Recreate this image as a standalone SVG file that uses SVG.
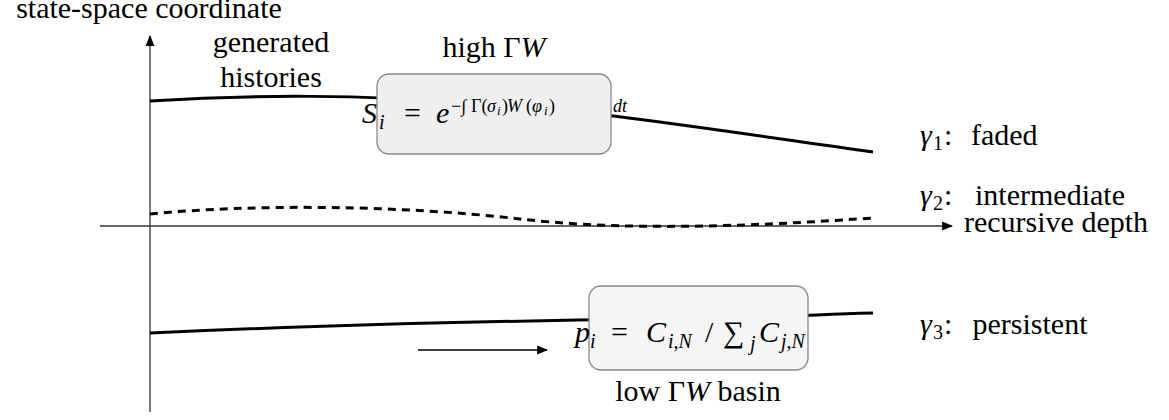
<svg xmlns="http://www.w3.org/2000/svg" width="1169" height="420" viewBox="0 0 1169 420">
<defs>
<marker id="ah" viewBox="0 0 10 10" refX="9" refY="5" markerWidth="11" markerHeight="11" markerUnits="userSpaceOnUse" orient="auto">
<path d="M0,1 L10,5 L0,9 Z" fill="#000"/>
</marker>
<style>
.axis{stroke:#333;stroke-width:1.3;fill:none}
.curve{stroke:#000;stroke-width:3;fill:none}
.box{stroke:#888;stroke-width:1.3}
</style>
</defs>
<g id="axes">
<line class="axis" x1="150" y1="412" x2="150" y2="36" marker-end="url(#ah)"/>
<line class="axis" x1="100" y1="226" x2="952" y2="226" marker-end="url(#ah)"/>
<text font-family="Liberation Serif" font-size="30" x="149" y="18" text-anchor="middle">state-space coordinate</text>
<text font-family="Liberation Serif" font-size="30" x="1056" y="232" text-anchor="middle">recursive depth</text>
</g>
<g id="connectors">
<path id="g1" class="curve" d="M150,101 C260,94 360,95 480,103 S750,135 873,152"/>
<path id="g2" class="curve" stroke-width="2" stroke-dasharray="8,6" d="M150,214 C250,204 400,205 520,219 C600,228 700,230 873,218"/>
<path id="g3" class="curve" d="M150,333 C300,326 500,321 650,319 S800,315 873,313"/>
<line x1="418" y1="350" x2="547" y2="350" stroke="#000" stroke-width="1.5" marker-end="url(#ah)"/>
</g>
<g id="label-generated">
<text font-family="Liberation Serif" font-size="30" x="271" y="52" text-anchor="middle">generated</text>
<text font-family="Liberation Serif" font-size="30" x="271" y="87" text-anchor="middle">histories</text>
</g>
<g id="label-high">
<text font-family="Liberation Serif" font-size="30" x="494" y="57" text-anchor="middle">high Γ<tspan font-style="italic">W</tspan></text>
</g>
<g id="node-survival">
<rect class="box" x="377" y="74" width="234" height="80" rx="12" fill="#efefef"/>
<text font-family="Liberation Serif" font-size="30" font-style="italic" x="362" y="123">S</text>
<text font-family="Liberation Serif" font-size="20" font-style="italic" x="379" y="129">i</text>
<text font-family="Liberation Serif" font-size="30" x="404" y="123">=</text>
<text font-family="Liberation Serif" font-size="30" font-style="italic" x="436" y="123">e</text>
<text font-family="Liberation Serif" font-size="18" x="451" y="112">−∫</text>
<text font-family="Liberation Serif" font-size="18" x="471" y="112">Γ(</text>
<text font-family="Liberation Serif" font-size="18" font-style="italic" x="487" y="112">σ</text>
<text font-family="Liberation Serif" font-size="13" font-style="italic" x="497" y="115">i</text>
<text font-family="Liberation Serif" font-size="18" x="502" y="112">)</text>
<text font-family="Liberation Serif" font-size="18" font-style="italic" x="507" y="112">W</text>
<text font-family="Liberation Serif" font-size="18" x="526" y="112">(</text>
<text font-family="Liberation Serif" font-size="18" font-style="italic" x="532" y="112">φ</text>
<text font-family="Liberation Serif" font-size="13" font-style="italic" x="544" y="115">i</text>
<text font-family="Liberation Serif" font-size="18" x="549" y="112">)</text>
<text font-family="Liberation Serif" font-size="18" font-style="italic" x="613" y="112">dt</text>
</g>
<g id="label-gamma1">
<text font-family="Liberation Serif" font-size="30" font-style="italic" x="920" y="145">γ</text>
<text font-family="Liberation Serif" font-size="20" x="933" y="150">1</text>
<text font-family="Liberation Serif" font-size="30" x="944" y="145">:</text>
<text font-family="Liberation Serif" font-size="30" x="971" y="145">faded</text>
</g>
<g id="label-gamma2">
<text font-family="Liberation Serif" font-size="30" font-style="italic" x="920" y="205">γ</text>
<text font-family="Liberation Serif" font-size="20" x="933" y="210">2</text>
<text font-family="Liberation Serif" font-size="30" x="944" y="205">:</text>
<text font-family="Liberation Serif" font-size="30" x="1050" y="205" text-anchor="middle">intermediate</text>
</g>
<g id="label-gamma3">
<text font-family="Liberation Serif" font-size="30" font-style="italic" x="920" y="334">γ</text>
<text font-family="Liberation Serif" font-size="20" x="933" y="339">3</text>
<text font-family="Liberation Serif" font-size="30" x="944" y="334">:</text>
<text font-family="Liberation Serif" font-size="30" x="1030" y="334" text-anchor="middle">persistent</text>
</g>
<g id="node-probability">
<rect class="box" x="589" y="286" width="219" height="84" rx="12" fill="#f5f5f5"/>
<text font-family="Liberation Serif" font-size="30" font-style="italic" x="575" y="342">p</text>
<text font-family="Liberation Serif" font-size="20" font-style="italic" x="590" y="348">i</text>
<text font-family="Liberation Serif" font-size="30" x="611" y="342">=</text>
<text font-family="Liberation Serif" font-size="30" font-style="italic" x="646" y="342">C</text>
<text font-family="Liberation Serif" font-size="20" font-style="italic" x="668" y="348">i,N</text>
<text font-family="Liberation Serif" font-size="30" x="705" y="342">/</text>
<text font-family="Liberation Serif" font-size="30" x="723" y="342">∑</text>
<text font-family="Liberation Serif" font-size="20" font-style="italic" x="750" y="350">j</text>
<text font-family="Liberation Serif" font-size="30" font-style="italic" x="759" y="342">C</text>
<text font-family="Liberation Serif" font-size="20" font-style="italic" x="781" y="348">j,N</text>
</g>
<g id="label-low">
<text font-family="Liberation Serif" font-size="30" x="698" y="401" text-anchor="middle">low Γ<tspan font-style="italic">W</tspan> basin</text>
</g>
</svg>
